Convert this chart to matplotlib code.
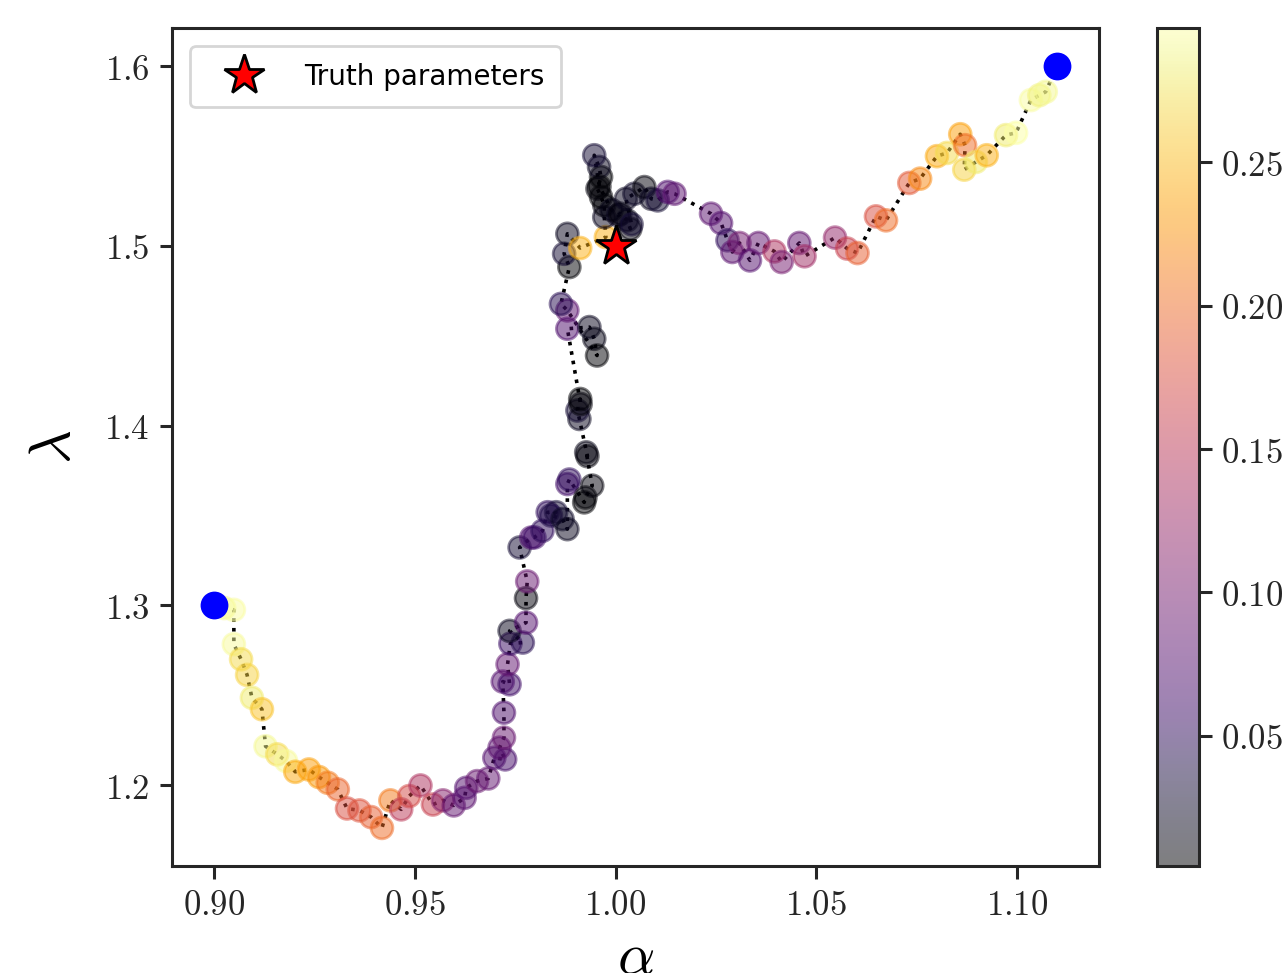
import numpy as np
import matplotlib
matplotlib.use("Agg")
import matplotlib.pyplot as plt
from matplotlib.ticker import FormatStrFormatter

# ---------------- data ----------------
alpha_vals = [
    0.9000,
    0.9025, 0.9049, 0.9049, 0.9067, 0.9082, 0.9094, 0.9119, 0.9128, 0.9157, 0.9179,
    0.9202, 0.9236, 0.9261, 0.9283, 0.9308, 0.9331, 0.9362, 0.9391, 0.9418, 0.9439,
    0.9466, 0.9486, 0.9514, 0.9545, 0.9570, 0.9597, 0.9624, 0.9628, 0.9655, 0.9683,
    0.9698, 0.9725, 0.9711, 0.9722, 0.9722, 0.9719, 0.9736, 0.9731, 0.9738, 0.9769,
    0.9736, 0.9777, 0.9777, 0.9780,
    0.9761, 0.9790, 0.9798, 0.9818, 0.9831, 0.9852, 0.9839, 0.9868, 0.9880, 0.9880,
    0.9885, 0.9922, 0.9925, 0.9942, 0.9927, 0.9930, 0.9910, 0.9905, 0.9912, 0.9913,
    0.9880, 0.9935, 0.9947, 0.9954, 0.9880, 0.9864, 0.9885, 0.9872, 0.9880, 0.9912,
    0.9976, 0.9972, 0.9972, 0.9964, 0.9955, 0.9964, 0.9959, 0.9947, 0.9960, 0.9990,
    1.0007, 1.0012, 1.0029, 1.0037, 1.0040, 1.0026, 1.0047, 1.0072, 1.0089, 1.0105,
    1.0130, 1.0147,
    1.0238, 1.0263, 1.0279, 1.0291, 1.0309, 1.0335, 1.0356, 1.0396, 1.0414, 1.0458,
    1.0471, 1.0547, 1.0577, 1.0603, 1.0649, 1.0674, 1.0732, 1.0759, 1.0801, 1.0826,
    1.0859, 1.0871, 1.0869, 1.0898, 1.0925, 1.0973, 1.0998, 1.1035, 1.1056, 1.1072,
    1.1100,
]
lambda_vals = [
    1.3000,
    1.2985, 1.2975, 1.2784, 1.2700, 1.2613, 1.2486, 1.2422, 1.2216, 1.2171, 1.2134,
    1.2074, 1.2087, 1.2045, 1.2013, 1.1976, 1.1870, 1.1859, 1.1822, 1.1762, 1.1915,
    1.1865, 1.1939, 1.1998, 1.1892, 1.1915, 1.1887, 1.1929, 1.1985, 1.2022, 1.2037,
    1.2152, 1.2143, 1.2208, 1.2264, 1.2403, 1.2576, 1.2561, 1.2672, 1.2787, 1.2793,
    1.2858, 1.2904, 1.3040, 1.3133,
    1.3322, 1.3377, 1.3378, 1.3415, 1.3518, 1.3518, 1.3500, 1.3480, 1.3424, 1.3675,
    1.3700, 1.3573, 1.3600, 1.3666, 1.3851, 1.3830, 1.4037, 1.4084, 1.4148, 1.4120,
    1.4539, 1.4548, 1.4483, 1.4390, 1.4641, 1.4677, 1.4882, 1.4956, 1.5067, 1.4988,
    1.5049, 1.5160, 1.5226, 1.5272, 1.5318, 1.5383, 1.5439, 1.5504, 1.5330, 1.5200,
    1.5170, 1.5179, 1.5142, 1.5095, 1.5120, 1.5262, 1.5290, 1.5327, 1.5262, 1.5253,
    1.5300, 1.5290,
    1.5179, 1.5127, 1.5031, 1.4966, 1.5016, 1.4919, 1.5016, 1.4969, 1.4910, 1.5016,
    1.4942, 1.5046, 1.4985, 1.4960, 1.5164, 1.5142, 1.5350, 1.5374, 1.5499, 1.5517,
    1.5621, 1.5560, 1.5424, 1.5467, 1.5504, 1.5616, 1.5629, 1.5811, 1.5838, 1.5857,
    1.6000,
]
# colour value of each visited point (the two endpoints are the blue markers)
loss_vals = [
    0.290, 0.295, 0.293, 0.270, 0.265, 0.280, 0.255, 0.290, 0.270, 0.293,
    0.240, 0.235, 0.230, 0.210, 0.195, 0.175, 0.180, 0.190, 0.200, 0.210,
    0.150, 0.170, 0.140, 0.160, 0.110, 0.085, 0.080, 0.075, 0.090, 0.085,
    0.075, 0.065, 0.080, 0.090, 0.070, 0.075, 0.060, 0.085, 0.055, 0.045,
    0.020, 0.075, 0.010, 0.090,
    0.030, 0.070, 0.060, 0.050, 0.050, 0.030, 0.040, 0.025, 0.020, 0.060,
    0.050, 0.005, 0.008, 0.010, 0.015, 0.010, 0.020, 0.030, 0.005, 0.010,
    0.070, 0.020, 0.015, 0.005, 0.080, 0.045, 0.005, 0.030, 0.020, 0.245,
    0.245, 0.020, 0.010, 0.005, 0.010, 0.005, 0.020, 0.030, 0.008, 0.015,
    0.020, 0.010, 0.015, 0.010, 0.030, 0.020, 0.025, 0.010, 0.020, 0.030,
    0.070, 0.080,
    0.080, 0.075, 0.050, 0.080, 0.100, 0.075, 0.085, 0.140, 0.100, 0.085,
    0.130, 0.120, 0.160, 0.190, 0.175, 0.200, 0.185, 0.220, 0.240, 0.270,
    0.235, 0.200, 0.265, 0.280, 0.245, 0.280, 0.297, 0.295, 0.285, 0.290,
]
start_point = (0.90, 1.30)
end_point = (1.11, 1.60)
truth_point = (1.00, 1.50)
x_ticks = [0.90, 0.95, 1.00, 1.05, 1.10]
y_ticks = [1.2, 1.3, 1.4, 1.5, 1.6]
cbar_ticks = [0.05, 0.10, 0.15, 0.20, 0.25]
c_min, c_max = 0.0046, 0.2968

# ---------------- style ----------------
plt.rcParams['mathtext.fontset'] = 'cm'
plt.rcParams['font.family'] = ['DejaVu Sans']
plt.rcParams['axes.edgecolor'] = '0.15'
plt.rcParams['axes.linewidth'] = 1.1
plt.rcParams['xtick.color'] = '0.15'
plt.rcParams['ytick.color'] = '0.15'
plt.rcParams['xtick.major.size'] = 4.5
plt.rcParams['ytick.major.size'] = 4.5
plt.rcParams['xtick.major.width'] = 1.1
plt.rcParams['ytick.major.width'] = 1.1

fig = plt.figure(figsize=(6.42, 4.865), dpi=200)
ax = fig.add_axes([0.1340, 0.1100, 0.7220, 0.8612])
cax = fig.add_axes([0.9011, 0.1100, 0.0327, 0.8612])

x = np.array(alpha_vals)
y = np.array(lambda_vals)
ax.plot(x, y, linestyle=':', color='black', lw=1.3, zorder=1)
sc = ax.scatter(x[1:-1], y[1:-1], c=loss_vals, cmap='inferno', alpha=0.5,
                s=62, linewidths=1.0, edgecolors='face', vmin=c_min, vmax=c_max,
                zorder=2)
ax.plot([start_point[0], end_point[0]], [start_point[1], end_point[1]],
        linestyle='none', marker='o', color='blue', ms=9, zorder=4)
ax.plot([truth_point[0]], [truth_point[1]], linestyle='none', marker='*',
        ms=15, mfc='red', mec='black', mew=1.0, zorder=5, label='Truth parameters')

ax.set_xticks(x_ticks)
ax.set_yticks(y_ticks)
ax.xaxis.set_major_formatter(FormatStrFormatter(r'$%.2f$'))
ax.yaxis.set_major_formatter(FormatStrFormatter(r'$%.1f$'))
ax.tick_params(labelsize=12.5)
ax.set_xlabel(r'$\alpha$', fontsize=21, labelpad=2)
ax.set_ylabel(r'$\lambda$', fontsize=21, labelpad=8)

leg = ax.legend(loc='upper left', fontsize=10.0, handlelength=2.7,
                borderpad=0.6, borderaxespad=0.65)

cb = fig.colorbar(sc, cax=cax)
cb.set_ticks(cbar_ticks)
cb.ax.yaxis.set_major_formatter(FormatStrFormatter(r'$%.2f$'))
cb.ax.tick_params(labelsize=12.5)
cb.outline.set_edgecolor('0.15')
cb.outline.set_linewidth(1.1)

fig.savefig('out.png', dpi=200)
